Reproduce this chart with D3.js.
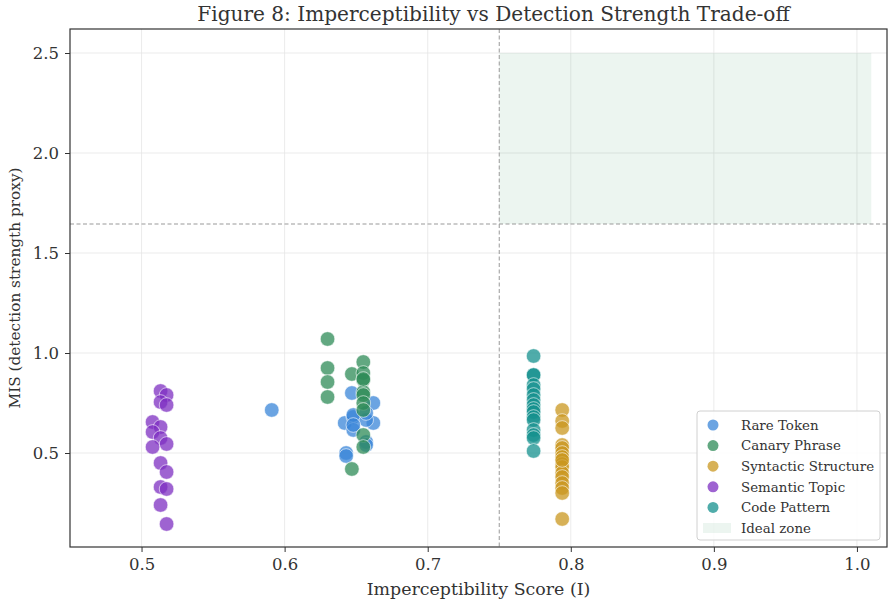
<!DOCTYPE html>
<html>
<head>
<meta charset="utf-8">
<script src="https://d3js.org/d3.v7.min.js"></script>
<style>
  body { margin: 0; background: #fff; }
  text { font-family: "DejaVu Serif", serif; fill: #333; }
</style>
</head>
<body>
<div id="chart"></div>
<script>
// Imperceptibility (x) and MIS (y) per watermark type
const rareX = [0.591, 0.647, 0.662, 0.642, 0.648, 0.648, 0.662, 0.657, 0.657, 0.643, 0.643, 0.648, 0.657, 0.648, 0.657];
const rareY = [0.715, 0.80, 0.75, 0.65, 0.68, 0.615, 0.65, 0.665, 0.555, 0.50, 0.485, 0.69, 0.70, 0.64, 0.54];

const canaryX = [0.630, 0.630, 0.630, 0.630, 0.647, 0.655, 0.655, 0.655, 0.655, 0.655, 0.655, 0.655, 0.655, 0.655, 0.647, 0.655];
const canaryY = [1.07, 0.925, 0.855, 0.78, 0.895, 0.955, 0.90, 0.865, 0.805, 0.79, 0.75, 0.715, 0.59, 0.53, 0.42, 0.87];

const syntX = [0.794, 0.794, 0.794, 0.794, 0.794, 0.794, 0.794, 0.794, 0.794, 0.794, 0.794, 0.794, 0.794, 0.794, 0.794, 0.794];
const syntY = [0.715, 0.66, 0.625, 0.54, 0.525, 0.50, 0.48, 0.445, 0.43, 0.40, 0.38, 0.35, 0.325, 0.30, 0.17, 0.465];

const semX = [0.5133, 0.5175, 0.5133, 0.5175, 0.5077, 0.5133, 0.5077, 0.5133, 0.5175, 0.5077, 0.5133, 0.5175, 0.5133, 0.5175, 0.5133, 0.5175];
const semY = [0.81, 0.79, 0.755, 0.74, 0.655, 0.63, 0.605, 0.575, 0.545, 0.53, 0.45, 0.405, 0.33, 0.32, 0.24, 0.145];

const codeX = [0.774, 0.774, 0.774, 0.774, 0.774, 0.774, 0.774, 0.774, 0.774, 0.774, 0.774, 0.774, 0.774, 0.774, 0.774, 0.774];
const codeY = [0.985, 0.89, 0.89, 0.84, 0.82, 0.79, 0.765, 0.74, 0.72, 0.705, 0.68, 0.665, 0.615, 0.59, 0.575, 0.51];

const seriesNames = ["Rare Token", "Canary Phrase", "Syntactic Structure", "Semantic Topic", "Code Pattern"];
const seriesColors = ["#3a86d8", "#2e8b57", "#c9971f", "#7d2fc2", "#14908e"];
const seriesData = [[rareX, rareY], [canaryX, canaryY], [syntX, syntY], [semX, semY], [codeX, codeY]];

const xTicks = [0.5, 0.6, 0.7, 0.8, 0.9, 1.0];
const yTicks = [0.5, 1.0, 1.5, 2.0, 2.5];
const thresholdX = 0.75;
const thresholdY = 1.645;
const idealZone = { x0: 0.75, x1: 1.01, y0: 1.645, y1: 2.5 };

const width = 895, height = 605;
const margin = { top: 29, right: 8, bottom: 58, left: 70 };
const innerW = width - margin.left - margin.right;
const innerH = height - margin.top - margin.bottom;

const x = d3.scaleLinear().domain([0.45, 1.021]).range([0, innerW]);
const y = d3.scaleLinear().domain([0.03, 2.62]).range([innerH, 0]);

const svg = d3.select('#chart').append('svg')
  .attr('width', width)
  .attr('height', height);

const g = svg.append('g')
  .attr('transform', `translate(${margin.left},${margin.top})`);

// grid
g.append('g').selectAll('line').data(xTicks).enter().append('line')
  .attr('x1', d => x(d)).attr('x2', d => x(d))
  .attr('y1', 0).attr('y2', innerH)
  .attr('stroke', '#e6e6e6').attr('stroke-width', 0.8);
g.append('g').selectAll('line').data(yTicks).enter().append('line')
  .attr('y1', d => y(d)).attr('y2', d => y(d))
  .attr('x1', 0).attr('x2', innerW)
  .attr('stroke', '#e6e6e6').attr('stroke-width', 0.8);

// ideal zone
g.append('rect')
  .attr('x', x(idealZone.x0))
  .attr('y', y(idealZone.y1))
  .attr('width', x(idealZone.x1) - x(idealZone.x0))
  .attr('height', y(idealZone.y0) - y(idealZone.y1))
  .attr('fill', '#2e8b57')
  .attr('fill-opacity', 0.09);

// threshold lines
g.append('line')
  .attr('x1', x(thresholdX)).attr('x2', x(thresholdX))
  .attr('y1', 0).attr('y2', innerH)
  .attr('stroke', '#999').attr('stroke-width', 1)
  .attr('stroke-dasharray', '4,2.5');
g.append('line')
  .attr('x1', 0).attr('x2', innerW)
  .attr('y1', y(thresholdY)).attr('y2', y(thresholdY))
  .attr('stroke', '#999').attr('stroke-width', 1)
  .attr('stroke-dasharray', '4,2.5');

// points
seriesData.forEach((s, i) => {
  const pts = s[0].map((xv, j) => [xv, s[1][j]]);
  g.append('g').selectAll('circle').data(pts).enter().append('circle')
    .attr('cx', d => x(d[0]))
    .attr('cy', d => y(d[1]))
    .attr('r', 7.3)
    .attr('fill', seriesColors[i])
    .attr('fill-opacity', 0.75)
    .attr('stroke', '#fff')
    .attr('stroke-width', 0.6);
});

// axes
const xAxis = g.append('g')
  .attr('transform', `translate(0,${innerH})`)
  .call(d3.axisBottom(x).tickValues(xTicks).tickFormat(d3.format('.1f')).tickSize(5).tickPadding(6));
const yAxis = g.append('g')
  .call(d3.axisLeft(y).tickValues(yTicks).tickFormat(d3.format('.1f')).tickSize(5).tickPadding(6));
[xAxis, yAxis].forEach(a => {
  a.select('.domain').remove();
  a.selectAll('line').attr('stroke', '#333');
  a.selectAll('text').style('font-size', '16.5px').style('font-family', '"DejaVu Serif", serif').attr('fill', '#333');
});

// frame
g.append('rect')
  .attr('width', innerW).attr('height', innerH)
  .attr('fill', 'none').attr('stroke', '#333').attr('stroke-width', 1.2);

// labels
svg.append('text')
  .attr('x', margin.left + innerW / 2 + 15).attr('y', 21)
  .attr('text-anchor', 'middle')
  .style('font-size', '20.1px')
  .text('Figure 8: Imperceptibility vs Detection Strength Trade-off');
svg.append('text')
  .attr('x', margin.left + innerW / 2).attr('y', 595)
  .attr('text-anchor', 'middle')
  .style('font-size', '17.4px')
  .text('Imperceptibility Score (I)');
svg.append('text')
  .attr('transform', `translate(20,${margin.top + innerH / 2}) rotate(-90)`)
  .attr('text-anchor', 'middle')
  .style('font-size', '15.3px')
  .text('MIS (detection strength proxy)');

// legend
const lg = svg.append('g').attr('transform', 'translate(697,411)');
lg.append('rect')
  .attr('width', 183).attr('height', 129).attr('rx', 3)
  .attr('fill', '#fff').attr('fill-opacity', 0.85)
  .attr('stroke', '#d0d0d0');
seriesNames.forEach((name, i) => {
  const row = lg.append('g').attr('transform', `translate(0,${14 + i * 20.6})`);
  row.append('circle').attr('cx', 16).attr('cy', 0).attr('r', 5.5)
    .attr('fill', seriesColors[i]).attr('fill-opacity', 0.75);
  row.append('text').attr('x', 44).attr('y', 0).attr('dy', '0.35em')
    .style('font-size', '13.4px').text(name);
});
const zr = lg.append('g').attr('transform', `translate(0,${14 + 5 * 20.6})`);
zr.append('rect').attr('x', 6).attr('y', -5).attr('width', 28).attr('height', 10)
  .attr('fill', '#2e8b57').attr('fill-opacity', 0.09);
zr.append('text').attr('x', 44).attr('y', 0).attr('dy', '0.35em')
  .style('font-size', '13.4px').text('Ideal zone');
</script>
</body>
</html>
